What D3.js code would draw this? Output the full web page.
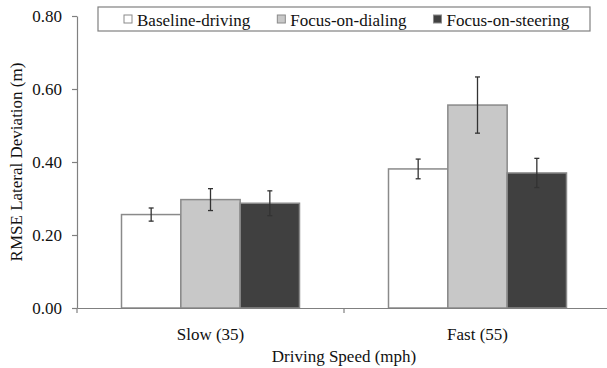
<!DOCTYPE html>
<html>
<head>
<meta charset="utf-8">
<script src="https://cdn.jsdelivr.net/npm/d3@7"></script>
<style>
  body { margin: 0; background: #fff; }
  svg text { font-family: 'Liberation Serif', 'Times New Roman', serif; }
</style>
</head>
<body>
<svg id="chart" width="607" height="368"></svg>
<script>
// data
var speeds = ["Slow (35)", "Fast (55)"];
var conditions = ["Baseline-driving", "Focus-on-dialing", "Focus-on-steering"];
var baseline = [0.256, 0.381];
var dialing = [0.297, 0.556];
var steering = [0.287, 0.370];
var baselineErr = [0.018, 0.027];
var dialingErr = [0.030, 0.077];
var steeringErr = [0.034, 0.040];
var yTicks = [0, 0.2, 0.4, 0.6, 0.8];

var fills = ["#ffffff", "#c8c8c8", "#404040"];
var values = [baseline, dialing, steering];
var errs = [baselineErr, dialingErr, steeringErr];
var serif = "'Liberation Serif', 'Times New Roman', serif";

var svg = d3.select("#chart");
var margin = {left: 77, right: -4, top: 16, bottom: 60};
var W = 607, H = 368;
var plotW = W - margin.left - margin.right;
var plotH = H - margin.top - margin.bottom;

var x = d3.scaleBand().domain(speeds).range([0, plotW]).padding(0);
var bw = x.bandwidth();
var xs = d3.scaleBand().domain(conditions).range([bw / 6, bw * 5 / 6]).padding(0);
var y = d3.scaleLinear().domain([0, 0.8]).range([plotH, 0]);

var g = svg.append("g").attr("transform", "translate(" + margin.left + "," + margin.top + ")");

// bars
var rows = [];
speeds.forEach(function(s, i) {
  conditions.forEach(function(c, j) {
    rows.push({speed: s, cond: c, v: values[j][i], e: errs[j][i], fill: fills[j]});
  });
});

g.selectAll("rect.bar")
  .data(rows)
  .enter()
  .append("rect")
  .attr("class", "bar")
  .attr("x", function(d) { return x(d.speed) + xs(d.cond); })
  .attr("width", xs.bandwidth())
  .attr("y", function(d) { return y(d.v); })
  .attr("height", function(d) { return y(0) - y(d.v); })
  .attr("fill", function(d) { return d.fill; })
  .attr("stroke", "#8a8a8a")
  .attr("stroke-width", 1.5);

// error bars
var eb = g.selectAll("g.err").data(rows).enter().append("g")
  .attr("class", "err")
  .attr("stroke", "#333")
  .attr("stroke-width", 1.3);
function cx(d) { return x(d.speed) + xs(d.cond) + xs.bandwidth() / 2; }
eb.append("line")
  .attr("x1", cx).attr("x2", cx)
  .attr("y1", function(d) { return y(d.v + d.e); })
  .attr("y2", function(d) { return y(d.v - d.e); });
eb.append("line")
  .attr("x1", function(d) { return cx(d) - 2.5; }).attr("x2", function(d) { return cx(d) + 2.5; })
  .attr("y1", function(d) { return y(d.v + d.e); })
  .attr("y2", function(d) { return y(d.v + d.e); });
eb.append("line")
  .attr("x1", function(d) { return cx(d) - 2.5; }).attr("x2", function(d) { return cx(d) + 2.5; })
  .attr("y1", function(d) { return y(d.v - d.e); })
  .attr("y2", function(d) { return y(d.v - d.e); });

// y axis
var yAxis = g.append("g")
  .call(d3.axisLeft(y).tickValues(yTicks).tickFormat(d3.format(".2f")).tickSize(5).tickSizeOuter(0).tickPadding(10))
  .attr("font-family", serif);
yAxis.selectAll("path, line").attr("stroke", "#808080").attr("stroke-width", 1.2);
yAxis.selectAll("text").attr("font-size", 17).attr("fill", "#111");

// x axis
var xAxis = g.append("g")
  .attr("transform", "translate(0," + plotH + ")")
  .call(d3.axisBottom(x).tickSize(0).tickSizeOuter(0).tickPadding(20))
  .attr("font-family", serif);
xAxis.select("path").attr("stroke", "#808080").attr("stroke-width", 1.2);
xAxis.selectAll("text").attr("font-size", 17).attr("fill", "#111");
var bounds = speeds.map(function(s) { return x(s); }).concat([x(speeds[speeds.length - 1]) + bw]);
xAxis.selectAll("line.bound").data(bounds).enter().append("line")
  .attr("class", "bound")
  .attr("x1", function(d) { return d; }).attr("x2", function(d) { return d; })
  .attr("y1", 0).attr("y2", 5)
  .attr("stroke", "#808080").attr("stroke-width", 1.2);

// axis titles
svg.append("text")
  .attr("x", margin.left + plotW / 2)
  .attr("y", 362)
  .attr("text-anchor", "middle")
  .attr("font-family", serif)
  .attr("font-size", 17)
  .attr("fill", "#111")
  .text("Driving Speed (mph)");

svg.append("text")
  .attr("transform", "translate(22," + (margin.top + plotH / 2) + ") rotate(-90)")
  .attr("text-anchor", "middle")
  .attr("font-family", serif)
  .attr("font-size", 17)
  .attr("fill", "#111")
  .text("RMSE Lateral Deviation (m)");

// legend
var legend = svg.append("g").attr("font-family", serif);
legend.append("rect")
  .attr("x", 98).attr("y", 7).attr("width", 492).attr("height", 24)
  .attr("fill", "#fff").attr("stroke", "#808080").attr("stroke-width", 1.2);
var lx = 124;
conditions.forEach(function(c, j) {
  legend.append("rect")
    .attr("x", lx).attr("y", 15).attr("width", 8).attr("height", 8)
    .attr("fill", fills[j]).attr("stroke", "#8a8a8a").attr("stroke-width", 1);
  var t = legend.append("text")
    .attr("x", lx + 13).attr("y", 26)
    .attr("font-size", 17)
    .attr("fill", "#111")
    .text(c);
  lx = lx + 13 + t.node().getComputedTextLength() + 27;
});
</script>
</body>
</html>
